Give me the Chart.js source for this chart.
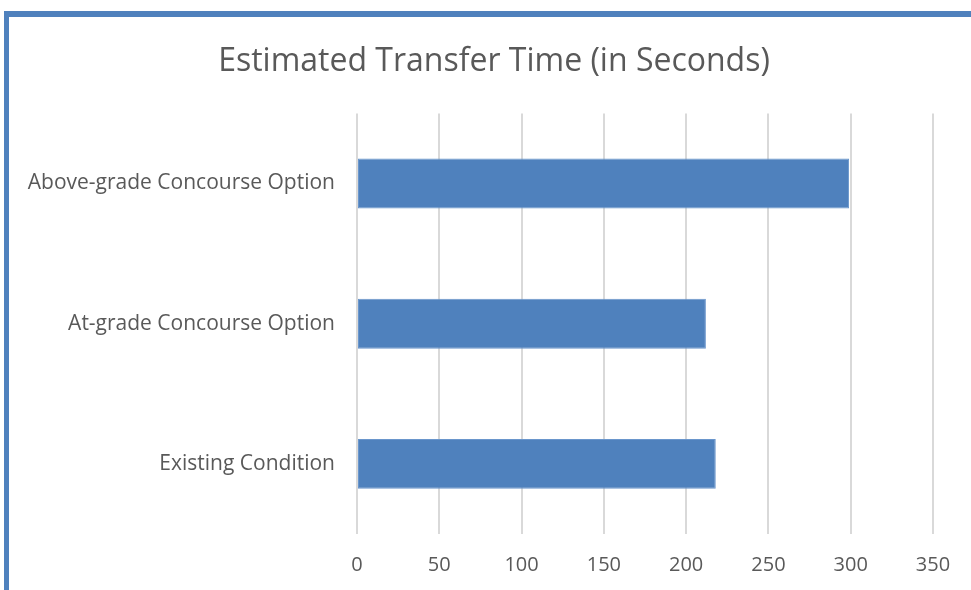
<!DOCTYPE html>
<html>
<head>
<meta charset="utf-8">
<script src="https://cdn.jsdelivr.net/npm/chart.js@4"></script>
<style>
  html, body { margin: 0; padding: 0; background: #fff; }
  #wrap { position: relative; width: 971px; height: 590px; overflow: hidden; }
  #frame {
    position: absolute; left: 4px; top: 11px; right: 0; bottom: 0;
    border-top: 6px solid #4f81bd; border-left: 5px solid #4f81bd;
  }
  canvas { position: absolute; left: 0; top: 0; }
</style>
</head>
<body>
<div id="wrap">
  <div id="frame"></div>
  <canvas id="chart" width="971" height="590"></canvas>
</div>
<script>
const categories = [
  "Above-grade Concourse Option",
  "At-grade Concourse Option",
  "Existing Condition",
];
const transferSeconds = [299, 212, 218];
const xTicks = [0, 50, 100, 150, 200, 250, 300, 350];

const textColor = "#595959";
const fontFamily = "'Open Sans', 'Noto Sans', sans-serif";

new Chart(document.getElementById("chart"), {
  type: "bar",
  data: {
    labels: categories,
    datasets: [
      {
        label: "Estimated Transfer Time",
        data: transferSeconds,
        backgroundColor: "#4f81bd",
        borderColor: "#6a96cc",
        borderWidth: 1,
        borderSkipped: false,
        categoryPercentage: 1,
        barPercentage: 0.356,
      },
    ],
  },
  options: {
    indexAxis: "y",
    responsive: false,
    animation: false,
    layout: { padding: { left: 17, right: 0, top: 0, bottom: 0 } },
    plugins: {
      legend: { display: false },
      tooltip: { enabled: false },
      title: {
        display: true,
        text: "Estimated Transfer Time (in Seconds)",
        color: textColor,
        font: { family: fontFamily, size: 32, weight: "normal" },
        padding: { top: 43, bottom: 32 },
      },
    },
    scales: {
      x: {
        min: xTicks[0],
        max: xTicks[xTicks.length - 1],
        afterBuildTicks: (scale) => {
          scale.ticks = xTicks.map((v) => ({ value: v }));
        },
        afterFit: (scale) => {
          scale.height = 56;
        },
        grid: { color: "#d9d9d9", lineWidth: 2, drawTicks: false },
        border: { display: false },
        ticks: {
          color: textColor,
          padding: 19,
          font: { family: fontFamily, size: 20 },
        },
      },
      y: {
        grid: { display: false, drawTicks: false },
        border: { display: false },
        afterFit: (scale) => {
          scale.width = 340;
        },
        ticks: {
          color: textColor,
          padding: 22,
          font: { family: fontFamily, size: 21 },
        },
      },
      // empty right-hand spacer so the plot ends at 350 while the title stays centred
      spacer: {
        type: "category",
        axis: "y",
        position: "right",
        grid: { display: false, drawTicks: false },
        border: { display: false },
        ticks: { display: false },
        afterFit: (scale) => {
          scale.width = 38;
        },
      },
    },
  },
});
</script>
</body>
</html>
